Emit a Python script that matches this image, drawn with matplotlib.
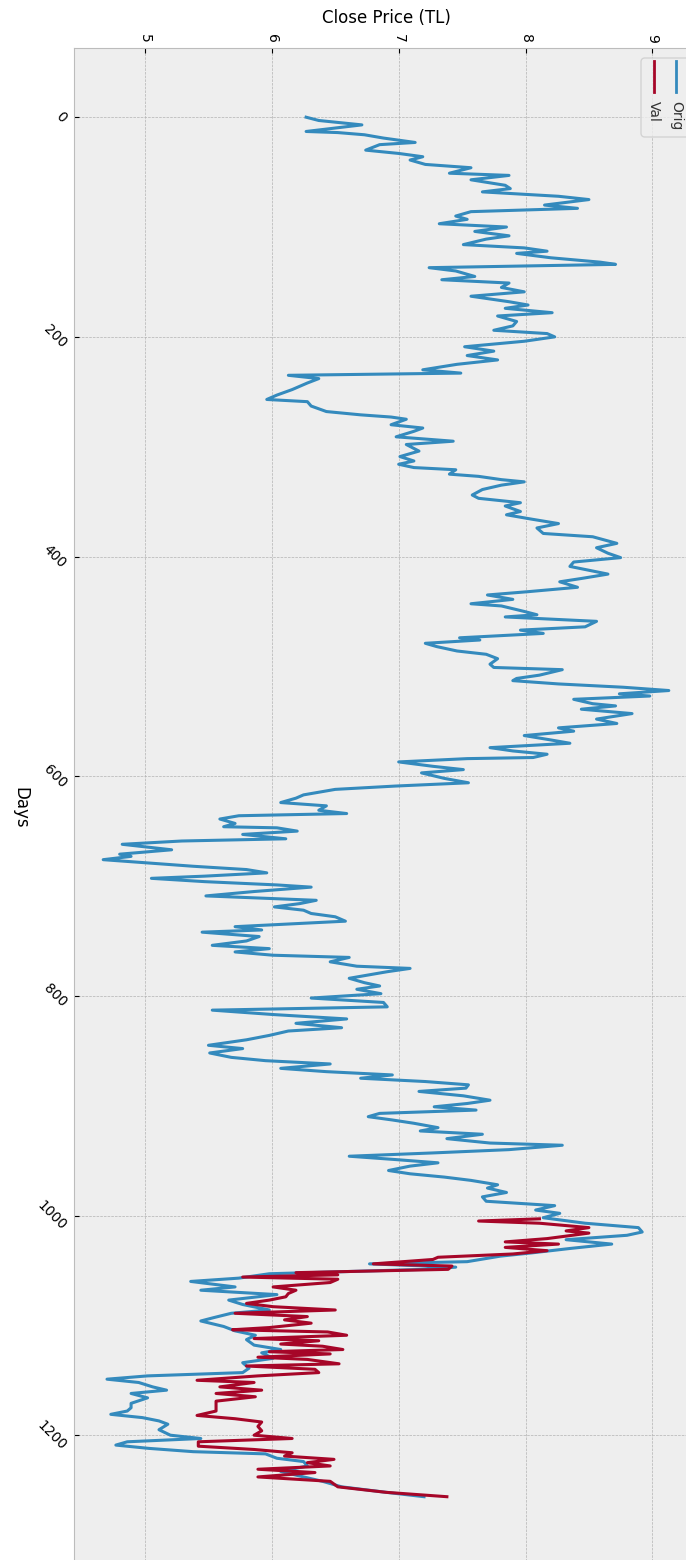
import matplotlib
matplotlib.use("Agg")
import matplotlib.pyplot as plt
from matplotlib.patches import FancyBboxPatch
from matplotlib.lines import Line2D
from matplotlib.transforms import IdentityTransform

# Orig series (day, close)
orig_days = [0, 3, 7, 13, 14, 16, 19, 23, 25, 30, 33, 36, 39, 43, 46, 51, 53, 57, 62, 65,
             68, 72, 75, 80, 83, 86, 90, 93, 97, 100, 104, 108, 111, 116, 119, 122, 124, 128, 132, 134,
             137, 140, 145, 148, 151, 155, 159, 163, 168, 171, 174, 178, 181, 186, 190, 194, 197, 200, 204, 209,
             213, 217, 221, 225, 230, 233, 235, 238, 242, 248, 253, 257, 259, 263, 268, 271, 273, 275, 280, 283,
             286, 291, 295, 298, 304, 309, 313, 316, 319, 321, 325, 327, 330, 332, 335, 339, 344, 347, 351, 354,
             359, 362, 366, 370, 374, 379, 382, 388, 392, 397, 401, 405, 409, 416, 420, 423, 428, 432, 435, 439,
             443, 445, 450, 453, 455, 459, 464, 467, 470, 474, 476, 479, 482, 486, 489, 493, 498, 501, 503, 508,
             511, 513, 516, 519, 522, 525, 527, 530, 534, 536, 539, 543, 548, 552, 556, 559, 563, 567, 570, 574,
             577, 580, 583, 584, 587, 591, 594, 597, 602, 606, 609, 612, 617, 620, 624, 627, 631, 634, 636, 639,
             643, 646, 647, 650, 653, 657, 659, 662, 665, 667, 671, 673, 676, 679, 682, 685, 688, 691, 693, 696,
             699, 701, 705, 709, 713, 716, 719, 722, 725, 728, 732, 737, 740, 742, 746, 750, 754, 757, 760, 763,
             765, 769, 773, 775, 778, 781, 784, 788, 791, 794, 798, 802, 806, 810, 813, 817, 821, 825, 829, 832,
             836, 840, 845, 848, 852, 856, 859, 862, 866, 869, 872, 875, 878, 881, 884, 887, 891, 895, 898, 901,
             904, 907, 910, 913, 916, 920, 923, 926, 930, 934, 936, 940, 943, 946, 949, 952, 955, 959, 962, 965,
             968, 972, 975, 979, 983, 987, 991, 995, 998, 1002, 1007, 1011, 1015, 1018, 1022, 1026, 1030, 1034, 1037, 1042,
             1044, 1047, 1049, 1053, 1057, 1060, 1065, 1068, 1072, 1077, 1081, 1086, 1089, 1093, 1096, 1101, 1105, 1109, 1113, 1118,
             1122, 1125, 1130, 1134, 1139, 1143, 1146, 1149, 1152, 1156, 1159, 1162, 1166, 1171, 1175, 1178, 1181, 1184, 1187, 1190,
             1195, 1200, 1203, 1206, 1209, 1212, 1215, 1217, 1221, 1224, 1228, 1233, 1238, 1242, 1247, 1252, 1256]
orig_close = [6.27, 6.37, 6.71, 6.27, 6.52, 6.73, 6.88, 7.13, 6.85, 6.74, 7.00, 7.19, 7.09, 7.21, 7.57, 7.40, 7.87, 7.57, 7.84, 7.88,
              7.66, 8.26, 8.50, 8.15, 8.41, 7.57, 7.45, 7.54, 7.32, 7.85, 7.60, 7.87, 7.69, 7.51, 7.99, 8.17, 7.93, 8.20, 8.59, 8.71,
              7.24, 7.45, 7.60, 7.34, 7.87, 7.81, 7.99, 7.57, 7.87, 8.02, 7.84, 8.21, 7.78, 7.93, 7.90, 7.75, 8.17, 8.23, 7.99, 7.52,
              7.75, 7.54, 7.78, 7.46, 7.19, 7.49, 6.13, 6.37, 6.28, 6.16, 6.04, 5.96, 6.28, 6.31, 6.43, 6.70, 6.94, 7.06, 6.94, 7.19,
              7.12, 6.98, 7.43, 7.06, 7.16, 7.01, 7.12, 7.00, 7.12, 7.45, 7.40, 7.63, 7.81, 7.99, 7.81, 7.66, 7.58, 7.63, 7.96, 7.84,
              7.96, 7.85, 8.05, 8.26, 8.09, 8.14, 8.53, 8.72, 8.56, 8.65, 8.75, 8.38, 8.35, 8.65, 8.44, 8.27, 8.41, 8.02, 7.70, 7.90,
              7.57, 7.81, 7.99, 8.09, 7.84, 8.56, 8.47, 7.96, 8.14, 7.48, 7.64, 7.21, 7.30, 7.46, 7.69, 7.78, 7.72, 7.75, 8.29, 8.11,
              7.93, 7.90, 8.26, 8.77, 9.13, 8.74, 8.98, 8.38, 8.53, 8.71, 8.44, 8.84, 8.56, 8.72, 8.26, 8.38, 7.99, 8.20, 8.35, 7.72,
              7.90, 8.17, 8.06, 7.54, 7.00, 7.27, 7.51, 7.18, 7.36, 7.55, 6.97, 6.50, 6.25, 6.19, 6.07, 6.43, 6.37, 6.59, 5.74, 5.59,
              5.71, 5.62, 6.04, 6.20, 5.77, 6.11, 5.29, 4.82, 5.05, 5.21, 4.80, 4.89, 4.67, 5.02, 5.38, 5.80, 5.96, 5.47, 5.05, 5.47,
              6.04, 6.31, 5.86, 5.48, 6.35, 6.22, 6.02, 6.25, 6.31, 6.50, 6.58, 5.71, 5.92, 5.45, 5.90, 5.80, 5.53, 5.98, 5.71, 6.01,
              6.61, 6.46, 6.67, 7.09, 6.91, 6.76, 6.61, 6.73, 6.85, 6.67, 6.86, 6.31, 6.88, 6.91, 5.53, 6.01, 6.59, 6.19, 6.55, 6.13,
              5.98, 5.80, 5.50, 5.77, 5.51, 5.68, 5.95, 6.46, 6.07, 6.43, 6.95, 6.70, 7.21, 7.55, 7.53, 7.16, 7.51, 7.72, 7.54, 7.28,
              7.61, 6.85, 6.76, 6.95, 7.12, 7.31, 7.17, 7.66, 7.38, 7.72, 8.29, 7.87, 7.27, 6.61, 6.97, 7.31, 7.09, 6.92, 7.09, 7.36,
              7.57, 7.78, 7.70, 7.85, 7.66, 7.69, 8.23, 8.08, 8.27, 8.14, 8.47, 8.89, 8.92, 8.80, 8.32, 8.68, 8.35, 8.05, 7.80, 7.54,
              6.77, 7.45, 7.21, 5.98, 5.74, 5.36, 5.71, 5.44, 6.04, 5.66, 5.77, 5.98, 5.68, 5.54, 5.44, 5.62, 5.71, 5.87, 5.80, 5.86,
              6.07, 5.92, 6.01, 5.77, 5.82, 5.77, 5.02, 4.70, 4.95, 5.06, 5.17, 4.89, 5.02, 4.89, 4.89, 4.86, 4.73, 4.98, 5.11, 5.18,
              5.11, 5.20, 5.44, 4.86, 4.77, 5.03, 5.38, 5.95, 6.04, 6.25, 6.28, 6.07, 6.25, 6.40, 6.55, 6.90, 7.20]

# Val series (predictions on validation part)
val_days = [1003, 1005, 1007, 1011, 1014, 1016, 1021, 1024, 1026, 1029, 1032, 1035, 1038, 1040, 1044, 1046, 1049, 1052, 1054, 1056,
            1058, 1061, 1065, 1068, 1071, 1074, 1077, 1080, 1083, 1086, 1089, 1092, 1095, 1098, 1102, 1104, 1106, 1109, 1112, 1114,
            1117, 1119, 1122, 1124, 1126, 1129, 1131, 1135, 1137, 1140, 1143, 1146, 1150, 1152, 1156, 1159, 1162, 1165, 1169, 1174,
            1178, 1182, 1185, 1188, 1192, 1196, 1200, 1203, 1206, 1210, 1213, 1216, 1219, 1222, 1225, 1228, 1231, 1234, 1238, 1242,
            1247, 1252, 1256]
val_close = [8.11, 7.63, 8.11, 8.50, 8.32, 8.50, 8.17, 7.84, 8.26, 7.84, 8.17, 7.90, 7.31, 7.27, 6.80, 7.42, 7.39, 6.19, 6.52, 5.77,
             6.52, 6.46, 6.01, 6.19, 6.13, 6.11, 5.98, 5.80, 6.01, 6.50, 5.71, 6.28, 6.10, 6.31, 5.98, 5.69, 6.44, 6.59, 5.86, 6.37,
             6.07, 6.40, 6.56, 5.98, 6.46, 5.89, 6.28, 6.53, 5.80, 6.34, 6.37, 5.89, 5.41, 5.86, 5.59, 5.92, 5.56, 5.87, 5.56, 5.56,
             5.56, 5.41, 5.71, 5.92, 5.89, 5.92, 5.86, 6.16, 5.42, 5.42, 5.86, 6.16, 6.10, 6.49, 6.28, 6.46, 5.89, 6.34, 5.89, 6.46,
             6.52, 6.90, 7.38]

price_ticks = [5, 6, 7, 8, 9]
day_ticks = [0, 200, 400, 600, 800, 1000, 1200]

plt.style.use('bmh')
W, H = 686, 1560
fig = plt.figure(figsize=(W / 100, H / 100), dpi=100)

# chart is drawn turned a quarter turn: price runs across, days run down
ax = fig.add_axes([74 / W, (H - 1567) / H, 624 / W, 1519 / H])
ax.plot(orig_close, orig_days, label='Orig', lw=2.2)
ax.plot(val_close, val_days, label='Val', lw=2.2)
ax.set_xlim(4.44, 9.36)
ax.set_ylim(1320, -63)

ax.xaxis.tick_top()
ax.xaxis.set_label_position('top')
ax.set_xticks(price_ticks)
ax.set_yticks(day_ticks)
ax.tick_params(axis='x', labelrotation=-90, labelsize=10)
ax.tick_params(axis='y', labelrotation=-45, labelsize=10)
for lbl in ax.get_yticklabels():
    lbl.set_va('center')

ax.set_xlabel('Close Price (TL)', fontsize=12)
ax.xaxis.set_label_coords(0.5, (1567 - 18) / 1519)
ax.xaxis.label.set_va('center')
ax.set_ylabel('Days', fontsize=12, rotation=-90, va='center', ha='center')
ax.yaxis.set_label_coords((20 - 74) / 624, 0.5)

# legend, turned with the chart
px = IdentityTransform()
box = FancyBboxPatch((641, H - 137), 70, 79, boxstyle='round,pad=0,rounding_size=4',
                     facecolor='#eeeeee', edgecolor='#cccccc', alpha=0.8, lw=1, transform=px)
fig.add_artist(box)
for xpos, color, name in [(654, '#A60628', 'Val'), (676, '#348ABD', 'Orig')]:
    fig.add_artist(Line2D([xpos, xpos], [H - 61, H - 92], color=color, lw=2, transform=px))
    fig.text(xpos, H - 101, name, rotation=-90, ha='center', va='top', fontsize=10,
             color='#333333', transform=px)

fig.savefig('out.png', dpi=100)
